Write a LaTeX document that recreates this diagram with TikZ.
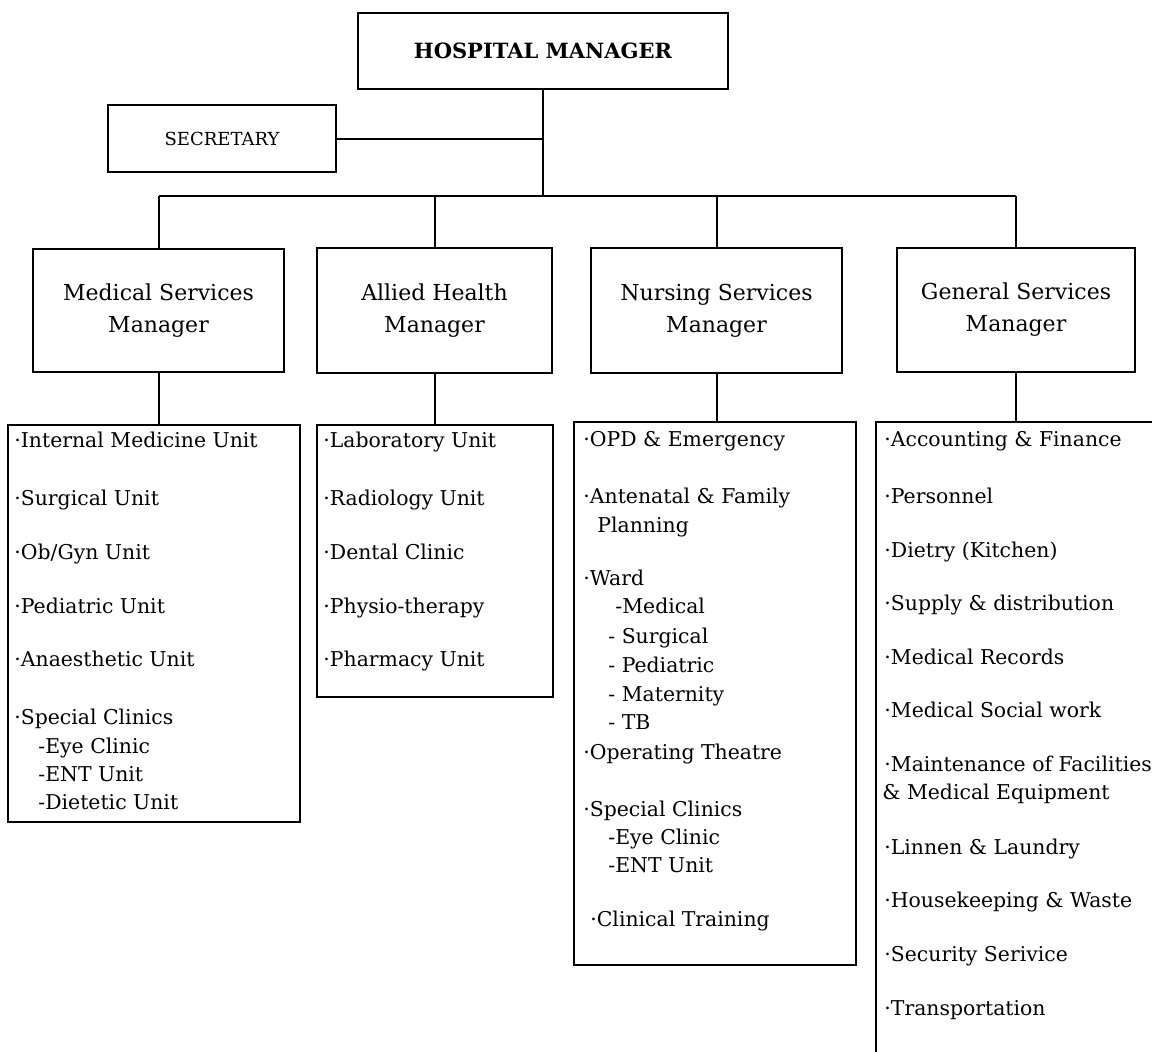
\documentclass[tikz,border=0pt]{standalone}
\usepackage{fontspec}
\setmainfont{DejaVu Serif}
\begin{document}
\begin{tikzpicture}[x=0.5pt,y=-0.5pt,
  box/.style={draw, line width=1pt, inner sep=0pt, align=center},
  mgr/.style={box, font=\fontsize{11}{16}\selectfont},
  listbox/.style={draw, line width=1pt, inner sep=0pt},
  item/.style={anchor=base west, inner sep=0pt, font=\fontsize{10.2}{12}\selectfont},
  link/.style={line width=1pt}]
\clip (0,0) rectangle (1152,1051);
\fill[white] (0,0) rectangle (1152,1051);

% top of the hierarchy
\node[box, minimum width=185pt, minimum height=38pt,
      font=\fontsize{10.5}{12}\selectfont\bfseries] (hm) at (543,51) {HOSPITAL MANAGER};
\node[box, minimum width=114pt, minimum height=33.5pt,
      font=\fontsize{9}{11}\selectfont] (sec) at (222,138.5) {SECRETARY};

% department managers
\node[mgr, minimum width=125.5pt, minimum height=61.5pt] (msm) at (158.5,310.5) {Medical Services\\Manager};
\node[mgr, minimum width=117.5pt, minimum height=62.5pt] (ahm) at (434.5,310.5) {Allied Health\\Manager};
\node[mgr, minimum width=125.5pt, minimum height=62.5pt] (nsm) at (716.5,310.5) {Nursing Services\\Manager};
\node[mgr, minimum width=119pt, minimum height=62pt] (gsm) at (1016,310) {General Services\\Manager};

% unit lists
\node[listbox, minimum width=146pt, minimum height=198.5pt] (mlist) at (154,623.5) {};
\node[listbox, minimum width=118pt, minimum height=136pt] (alist) at (435,561) {};
\node[listbox, minimum width=141pt, minimum height=271.5pt] (nlist) at (715,693.5) {};
\node[listbox, minimum width=162pt, minimum height=339pt] (glist) at (1038,761) {};

% connectors
\coordinate (bus) at (545,196);
\draw[link] (hm.south) -- (hm.south |- bus);
\draw[link] (sec.east) -- (sec.east -| hm.south);
\draw[link] (msm.north |- bus) -- (gsm.north |- bus);
\foreach \m in {msm,ahm,nsm,gsm} \draw[link] (\m.north |- bus) -- (\m.north);
\draw[link] (msm.south) -- (msm.south |- mlist.north);
\draw[link] (ahm.south) -- (ahm.south |- alist.north);
\draw[link] (nsm.south) -- (nsm.south |- nlist.north);
\draw[link] (gsm.south) -- (gsm.south |- glist.north);

% medical services units
\node[item] (m1) at (14,447) {·Internal Medicine Unit};
\node[item] (m2) at (14,505) {·Surgical Unit};
\node[item] (m3) at (14,559) {·Ob/Gyn Unit};
\node[item] (m4) at (14,613) {·Pediatric Unit};
\node[item] (m5) at (14,666) {·Anaesthetic Unit};
\node[item] (m6) at (14,724) {·Special Clinics};
\node[item] (m7) at (38,753) {-Eye Clinic};
\node[item] (m8) at (38,781) {-ENT Unit};
\node[item] (m9) at (38,809) {-Dietetic Unit};

% allied health units
\node[item] (a1) at (323,447) {·Laboratory Unit};
\node[item] (a2) at (323,505) {·Radiology Unit};
\node[item] (a3) at (323,559) {·Dental Clinic};
\node[item] (a4) at (323,613) {·Physio-therapy};
\node[item] (a5) at (323,666) {·Pharmacy Unit};

% nursing services units
\node[item] (n1) at (583,446) {·OPD \& Emergency};
\node[item] (n2) at (583,503) {·Antenatal \& Family};
\node[item] (n3) at (597,532) {Planning};
\node[item] (n4) at (583,585) {·Ward};
\node[item] (n5) at (615,613) {-Medical};
\node[item] (n6) at (608,643) {- Surgical};
\node[item] (n7) at (608,672) {- Pediatric};
\node[item] (n8) at (608,701) {- Maternity};
\node[item] (n9) at (608,729) {- TB};
\node[item] (n10) at (583,759) {·Operating Theatre};
\node[item] (n11) at (583,816) {·Special Clinics};
\node[item] (n12) at (608,844) {-Eye Clinic};
\node[item] (n13) at (608,872) {-ENT Unit};
\node[item] (n14) at (590,926) {·Clinical Training};

% general services units
\node[item] (g1) at (884,446) {·Accounting \& Finance};
\node[item] (g2) at (884,503) {·Personnel};
\node[item] (g3) at (884,557) {·Dietry (Kitchen)};
\node[item] (g4) at (884,610) {·Supply \& distribution};
\node[item] (g5) at (884,664) {·Medical Records};
\node[item] (g6) at (884,717) {·Medical Social work};
\node[item] (g7) at (884,771) {·Maintenance of Facilities};
\node[item] (g8) at (882,799) {\& Medical Equipment};
\node[item] (g9) at (884,854) {·Linnen \& Laundry};
\node[item] (g10) at (884,907) {·Housekeeping \& Waste};
\node[item] (g11) at (884,961) {·Security Serivice};
\node[item] (g12) at (884,1015) {·Transportation};
\end{tikzpicture}
\end{document}
